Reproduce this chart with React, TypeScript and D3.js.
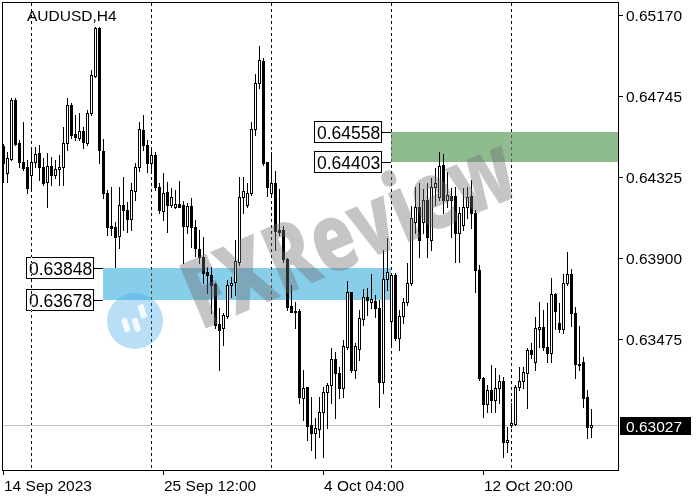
import React from 'react';
import * as d3 from 'd3';

// ---- data (AUDUSD, H4) ----
const openPrices = [
  0.64485, 0.64344, 0.64417, 0.64726, 0.64501, 0.64402, 0.64376, 0.64334, 0.64402, 0.64449,
  0.64376, 0.64297, 0.64381, 0.64334, 0.64365, 0.64376, 0.64501, 0.64700, 0.64548, 0.64527,
  0.64564, 0.64501, 0.64658, 0.64851, 0.65102, 0.64459, 0.64240, 0.64067, 0.64062, 0.64015,
  0.64177, 0.64151, 0.64104, 0.64250, 0.64376, 0.64569, 0.64490, 0.64396, 0.64438, 0.64271,
  0.64146, 0.64245, 0.64177, 0.64166, 0.64182, 0.64177, 0.64067, 0.64172, 0.64062, 0.63947,
  0.63905, 0.63827, 0.63811, 0.63764, 0.63555, 0.63534, 0.63597, 0.63759, 0.63774, 0.63879,
  0.64219, 0.64177, 0.64240, 0.64574, 0.64815, 0.64930, 0.64402, 0.64240, 0.64292, 0.64046,
  0.64046, 0.63895, 0.63649, 0.63623, 0.63623, 0.63168, 0.63226, 0.63027, 0.62985, 0.63006,
  0.63095, 0.63199, 0.63236, 0.63372, 0.63299, 0.63220, 0.63435, 0.63722, 0.63314, 0.63424,
  0.63581, 0.63696, 0.63670, 0.63675, 0.63639, 0.63252, 0.63790, 0.63571, 0.63811, 0.63482,
  0.63597, 0.63670, 0.63769, 0.64088, 0.64166, 0.64088, 0.64203, 0.63994, 0.64271, 0.64219,
  0.64386, 0.64203, 0.64224, 0.64224, 0.64031, 0.64072, 0.64166, 0.64224, 0.64135, 0.63837,
  0.63273, 0.63137, 0.63210, 0.63158, 0.63220, 0.63257, 0.62938, 0.63027, 0.63032, 0.63226,
  0.63257, 0.63299, 0.63419, 0.63356, 0.63529, 0.63539, 0.63435, 0.63403, 0.63712, 0.63560,
  0.63529, 0.63769, 0.63816, 0.63612, 0.63346, 0.63356, 0.63173, 0.63017,
];
const highPrices = [
  0.64496, 0.64454, 0.64736, 0.64736, 0.64517, 0.64611, 0.64412, 0.64480, 0.64480, 0.64490,
  0.64423, 0.64449, 0.64428, 0.64412, 0.64438, 0.64585, 0.64736, 0.64710, 0.64647, 0.64658,
  0.64585, 0.64673, 0.64883, 0.65107, 0.65105, 0.64522, 0.64255, 0.64271, 0.64088, 0.64271,
  0.64323, 0.64193, 0.64292, 0.64396, 0.64611, 0.64647, 0.64517, 0.64464, 0.64454, 0.64292,
  0.64344, 0.64297, 0.64266, 0.64255, 0.64302, 0.64198, 0.64187, 0.64213, 0.64099, 0.64046,
  0.64010, 0.63853, 0.63853, 0.63769, 0.63639, 0.63612, 0.63785, 0.63801, 0.63994, 0.64323,
  0.64323, 0.64292, 0.64611, 0.64862, 0.65008, 0.64945, 0.64402, 0.64454, 0.64355, 0.64261,
  0.64067, 0.63900, 0.63759, 0.63670, 0.63633, 0.63314, 0.63226, 0.63173, 0.63064, 0.63173,
  0.63226, 0.63247, 0.63429, 0.63409, 0.63330, 0.63471, 0.63780, 0.63722, 0.63456, 0.63628,
  0.63738, 0.63743, 0.63816, 0.63706, 0.63680, 0.63942, 0.64004, 0.63821, 0.63821, 0.63628,
  0.63691, 0.63874, 0.64172, 0.64271, 0.64292, 0.64261, 0.64292, 0.64318, 0.64370, 0.64454,
  0.64443, 0.64349, 0.64266, 0.64271, 0.64166, 0.64266, 0.64271, 0.64308, 0.64151, 0.63863,
  0.63278, 0.63236, 0.63341, 0.63325, 0.63288, 0.63278, 0.63017, 0.63142, 0.63236, 0.63330,
  0.63330, 0.63429, 0.63456, 0.63591, 0.63670, 0.63628, 0.63665, 0.63795, 0.63717, 0.63665,
  0.63816, 0.63931, 0.63842, 0.63644, 0.63544, 0.63382, 0.63210, 0.63111,
];
const lowPrices = [
  0.64297, 0.64297, 0.64412, 0.64490, 0.64376, 0.64360, 0.64240, 0.64266, 0.64376, 0.64308,
  0.64281, 0.64166, 0.64281, 0.64318, 0.64281, 0.64281, 0.64464, 0.64527, 0.64517, 0.64517,
  0.64475, 0.64490, 0.64647, 0.64846, 0.64396, 0.64213, 0.64020, 0.64020, 0.63853, 0.63952,
  0.64046, 0.64036, 0.64046, 0.64203, 0.64355, 0.64464, 0.64349, 0.64360, 0.64255, 0.64135,
  0.64099, 0.64036, 0.64166, 0.64161, 0.64166, 0.63874, 0.64031, 0.63957, 0.63910, 0.63874,
  0.63769, 0.63717, 0.63612, 0.63534, 0.63314, 0.63445, 0.63586, 0.63696, 0.63706, 0.63863,
  0.64135, 0.64166, 0.64229, 0.64543, 0.64788, 0.64386, 0.64224, 0.64219, 0.63942, 0.64020,
  0.63879, 0.63628, 0.63618, 0.63534, 0.63142, 0.63053, 0.62949, 0.62896, 0.62854, 0.62964,
  0.62860, 0.63011, 0.63142, 0.63064, 0.63168, 0.63173, 0.63424, 0.63304, 0.63273, 0.63367,
  0.63550, 0.63602, 0.63639, 0.63591, 0.63121, 0.63194, 0.63733, 0.63435, 0.63471, 0.63419,
  0.63560, 0.63654, 0.63759, 0.64031, 0.63905, 0.64031, 0.63905, 0.63942, 0.64177, 0.64203,
  0.64135, 0.64166, 0.64010, 0.63879, 0.63879, 0.64046, 0.64109, 0.64057, 0.63722, 0.63262,
  0.63069, 0.63095, 0.63095, 0.63095, 0.63142, 0.62860, 0.62886, 0.63017, 0.63027, 0.63210,
  0.63220, 0.63116, 0.63377, 0.63314, 0.63435, 0.63419, 0.63356, 0.63356, 0.63529, 0.63513,
  0.63508, 0.63759, 0.63544, 0.63273, 0.63314, 0.63121, 0.62959, 0.62964,
];
const closePrices = [
  0.64396, 0.64423, 0.64726, 0.64496, 0.64402, 0.64370, 0.64266, 0.64402, 0.64443, 0.64376,
  0.64292, 0.64381, 0.64334, 0.64365, 0.64376, 0.64501, 0.64700, 0.64543, 0.64532, 0.64564,
  0.64506, 0.64658, 0.64856, 0.65102, 0.64464, 0.64240, 0.64062, 0.64057, 0.64010, 0.64177,
  0.64151, 0.64104, 0.64255, 0.64376, 0.64574, 0.64490, 0.64396, 0.64438, 0.64271, 0.64151,
  0.64240, 0.64177, 0.64219, 0.64182, 0.64166, 0.64067, 0.64172, 0.64062, 0.63952, 0.63905,
  0.63821, 0.63811, 0.63759, 0.63550, 0.63524, 0.63602, 0.63759, 0.63769, 0.63884, 0.64219,
  0.64250, 0.64240, 0.64574, 0.64815, 0.64935, 0.64396, 0.64271, 0.64292, 0.64041, 0.64036,
  0.63894, 0.63644, 0.63618, 0.63618, 0.63173, 0.63220, 0.63022, 0.62985, 0.63011, 0.63095,
  0.63199, 0.63236, 0.63372, 0.63299, 0.63220, 0.63440, 0.63722, 0.63314, 0.63440, 0.63586,
  0.63696, 0.63680, 0.63686, 0.63639, 0.63252, 0.63790, 0.63827, 0.63811, 0.63482, 0.63597,
  0.63670, 0.63769, 0.64109, 0.64166, 0.63994, 0.64203, 0.64010, 0.64271, 0.64292, 0.64381,
  0.64203, 0.64229, 0.64203, 0.64031, 0.64135, 0.64166, 0.64219, 0.64135, 0.63837, 0.63273,
  0.63137, 0.63210, 0.63158, 0.63220, 0.63257, 0.62938, 0.62949, 0.63037, 0.63226, 0.63257,
  0.63304, 0.63419, 0.63398, 0.63534, 0.63539, 0.63435, 0.63403, 0.63712, 0.63623, 0.63529,
  0.63769, 0.63816, 0.63612, 0.63346, 0.63341, 0.63168, 0.63017, 0.63027,
];

const priceTicks = [0.6517, 0.64745, 0.64325, 0.639, 0.63475];
const timeTickBars = [0, 40, 80, 120];
const timeTickLabels = ['14 Sep 2023', '25 Sep 12:00', '4 Oct 04:00', '12 Oct 20:00'];
const gridBars = [7, 37, 67, 97, 127];
const zoneLows = [0.63678, 0.64403];
const zoneHighs = [0.63848, 0.64558];
const zoneStartBars = [25, 97];
const zoneEndBars = [97, -1]; // -1 = extends to the right edge
const zoneColors = ['#87ceeb', '#8fbc8f'];
const currentPrice = 0.63027;
const symbolTitle = 'AUDUSD,H4';
const watermarkText = 'FXReview';

const W = 700;
const H = 500;
const plotL = 2;
const plotR = 618;
const plotT = 2;
const plotB = 470;
const FONT = "'Liberation Sans', Arial, sans-serif";

export default function App() {
  const n = openPrices.length;
  const x = d3.scaleLinear().domain([0, n - 1]).range([3, 3 + 4 * (n - 1)]);
  const y = d3.scaleLinear().domain([0.63475, 0.6517]).range([339.3, 15]);
  const fmt = d3.format('.5f');
  const px = (v: number) => Math.round(y(v));

  const candles = d3.range(n).map((i) => {
    const o = openPrices[i];
    const c = closePrices[i];
    const cx = Math.round(x(i));
    const top = px(Math.max(o, c));
    const bot = px(Math.min(o, c));
    const bull = c >= o;
    return (
      <g key={i}>
        <line x1={cx + 0.5} x2={cx + 0.5} y1={px(highPrices[i])} y2={px(lowPrices[i]) + 1} stroke="#000" />
        {bot - top < 1 ? (
          <line x1={cx - 1} x2={cx + 2} y1={top + 0.5} y2={top + 0.5} stroke="#000" />
        ) : (
          <rect x={cx - 0.5} y={top + 0.5} width={2} height={bot - top} fill={bull ? '#fff' : '#000'} stroke="#000" />
        )}
      </g>
    );
  });

  const zones = zoneLows.map((lo, k) => {
    const x0 = Math.round(x(zoneStartBars[k]));
    const x1 = zoneEndBars[k] < 0 ? plotR : Math.round(x(zoneEndBars[k]));
    const yHi = px(zoneHighs[k]);
    const yLo = px(lo);
    return (
      <g key={k}>
        <rect x={x0} y={yHi} width={x1 - x0} height={yLo - yHi} fill={zoneColors[k]} />
        {[zoneHighs[k], lo].map((p, j) => {
          const yy = px(p) + 0.5;
          const bx1 = x0 - 10;
          const bx0 = bx1 - 67;
          return (
            <g key={j}>
              <line x1={bx1} x2={x0} y1={yy} y2={yy} stroke="#000" />
              <rect x={bx0 + 0.5} y={yy - 11} width={67} height={21} fill="#fff" stroke="#000" />
              <text x={bx0 + 3} y={yy + 6.5} fontFamily={FONT} fontSize={17.5} fill="#000">
                {fmt(p)}
              </text>
            </g>
          );
        })}
      </g>
    );
  });

  const curY = px(currentPrice) + 0.5;

  return (
    <svg width={W} height={H} style={{ position: 'absolute', left: 0, top: 0 }} shapeRendering="crispEdges">
      <rect x={0} y={0} width={W} height={H} fill="#fff" />
      {zones}
      {gridBars.map((b) => (
        <line
          key={b}
          x1={Math.round(x(b)) + 0.5}
          x2={Math.round(x(b)) + 0.5}
          y1={plotT + 1}
          y2={plotB}
          stroke="#fff"
          strokeDasharray="3,3"
          style={{ mixBlendMode: 'difference' }}
        />
      ))}
      <line x1={plotL} x2={plotR} y1={curY} y2={curY} stroke="#c0c0c0" />
      {candles}
      {/* watermark */}
      <g shapeRendering="auto">
        <g transform="translate(135,321)">
          <circle r={28} fill="rgba(70,170,235,0.38)" />
          <g transform="rotate(-18)" fill="rgba(255,255,255,0.85)">
            <rect x={-13} y={-6} width={6} height={14} rx={2} />
            <rect x={-3} y={-3} width={6} height={14} rx={2} />
            <rect x={7} y={-14} width={6} height={14} rx={2} />
          </g>
        </g>
        <text
          transform="translate(362,262) rotate(-23)"
          textAnchor="middle"
          fontFamily="'Open Sans', 'DejaVu Sans', sans-serif"
          fontWeight={800}
          fontSize={96}
          textLength={350}
          lengthAdjust="spacingAndGlyphs"
          fill="#6e6e6e"
          fillOpacity={0.4}
        >
          {watermarkText}
        </text>
      </g>
      {/* frame */}
      <rect x={plotL + 0.5} y={plotT + 0.5} width={plotR - plotL} height={plotB - plotT} fill="none" stroke="#000" />
      {/* price axis */}
      {priceTicks.map((p) => (
        <g key={p}>
          <line x1={plotR + 1} x2={plotR + 5} y1={px(p) + 0.5} y2={px(p) + 0.5} stroke="#000" />
          <text x={626} y={px(p) + 6} fontFamily={FONT} fontSize={15.5} fill="#000">
            {fmt(p)}
          </text>
        </g>
      ))}
      <rect x={620} y={curY - 9} width={71} height={18} fill="#000" />
      <text x={626} y={curY + 6} fontFamily={FONT} fontSize={15.5} fill="#fff">
        {fmt(currentPrice)}
      </text>
      {/* time axis */}
      {timeTickBars.map((b, k) => (
        <g key={b}>
          <line x1={Math.round(x(b)) + 0.5} x2={Math.round(x(b)) + 0.5} y1={plotB + 1} y2={plotB + 5} stroke="#000" />
          <text x={Math.round(x(b)) + 1} y={491} fontFamily={FONT} fontSize={15.5} fill="#000">
            {timeTickLabels[k]}
          </text>
        </g>
      ))}
      <text x={27} y={21} fontFamily={FONT} fontSize={15.5} fill="#000">
        {symbolTitle}
      </text>
    </svg>
  );
}
